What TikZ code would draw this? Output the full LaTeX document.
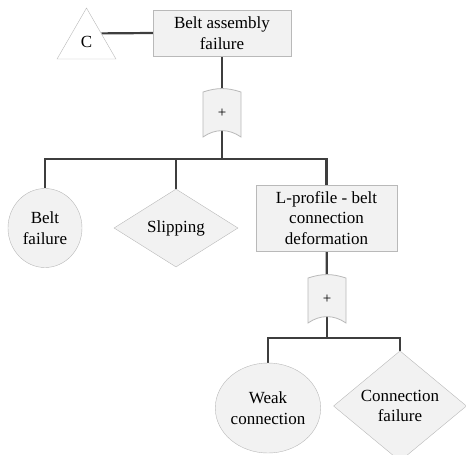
\documentclass[tikz,border=0pt]{standalone}
\usepackage{fontspec}
\setmainfont{Liberation Serif}
\usetikzlibrary{shapes.geometric,calc,backgrounds}
\definecolor{cFill}{RGB}{242,242,242}
\definecolor{cEdge}{RGB}{185,185,185}
\definecolor{cLine}{RGB}{62,62,62}
\tikzset{
  evt/.style={draw=cEdge, fill=cFill, rectangle, align=center, inner sep=0pt, font=\fontsize{17}{20.5}\selectfont},
  basic/.style={draw=cEdge, fill=cFill, ellipse, align=center, inner sep=0pt, font=\fontsize{17}{20.5}\selectfont},
  cond/.style={draw=cEdge, fill=cFill, diamond, align=center, inner sep=0pt, font=\fontsize{17}{20.5}\selectfont},
  xfer/.style={draw=cEdge, fill=white, regular polygon, regular polygon sides=3, minimum size=68pt, inner sep=0pt, font=\fontsize{17}{20.5}\selectfont},
  orgate/.style={minimum width=40pt, minimum height=50pt, inner sep=0pt, font=\fontsize{15}{17}\selectfont,
    path picture={
      \filldraw[draw=cEdge, fill=cFill, line width=0.8pt]
        ($(path picture bounding box.south west)+(1pt,1pt)$)
        -- ($(path picture bounding box.north west)+(1pt,-4pt)$)
        to[bend left=18] ($(path picture bounding box.north east)+(-1pt,-4pt)$)
        -- ($(path picture bounding box.south east)+(-1pt,1pt)$)
        to[bend right=35] ($(path picture bounding box.south west)+(1pt,1pt)$) -- cycle;
    }},
  conn/.style={draw=cLine, line width=2.2pt}
}

\begin{document}
\begin{tikzpicture}[x=1pt, y=-1pt]
  \useasboundingbox (0,0) rectangle (466,455);
  % top event and transfer
  \node[evt, minimum width=138pt, minimum height=46pt] (top) at (222,33) {Belt assembly\\failure};
  \node[xfer] (tri) at (86.5,42) {C};
  \node[orgate] (g1) at (222,113) {+};
  \coordinate (bar1) at (222,159);
  % first level
  \node[basic, minimum width=74pt, minimum height=79pt] (bfail) at (45,228) {Belt\\failure};
  \node[cond, minimum width=124pt, minimum height=78pt] (slip) at (176,228) {Slipping};
  \node[evt, minimum width=141pt, minimum height=66pt] (lprof) at (326.5,218) {L-profile - belt\\connection\\deformation};
  \node[orgate] (g2) at (327,299) {+};
  \coordinate (bar2) at (327,338);
  % second level
  \node[basic, minimum width=80pt, minimum height=90pt] (weak) at (268,408) {Weak\\connection};
  \node[cond, minimum width=133pt, minimum height=87pt] (cfail) at (400,406) {Connection\\failure};
  % connectors
  \begin{scope}[on background layer]
    \draw[conn] ($(tri.corner 1)!0.5!(tri.corner 3)$) -- (top.west);
    \draw[conn] (top.center) -- (g1.center);
    \draw[conn] (g1.center) -- (bar1) -| (bfail.north);
    \draw[conn] (bar1) -| (slip.north);
    \draw[conn] (bar1) -| (lprof.center);
    \draw[conn] (lprof.center) -- (g2.center);
    \draw[conn] (g2.center) -- (bar2) -| (weak.north);
    \draw[conn] (bar2) -| (cfail.north);
  \end{scope}
\end{tikzpicture}
\end{document}
